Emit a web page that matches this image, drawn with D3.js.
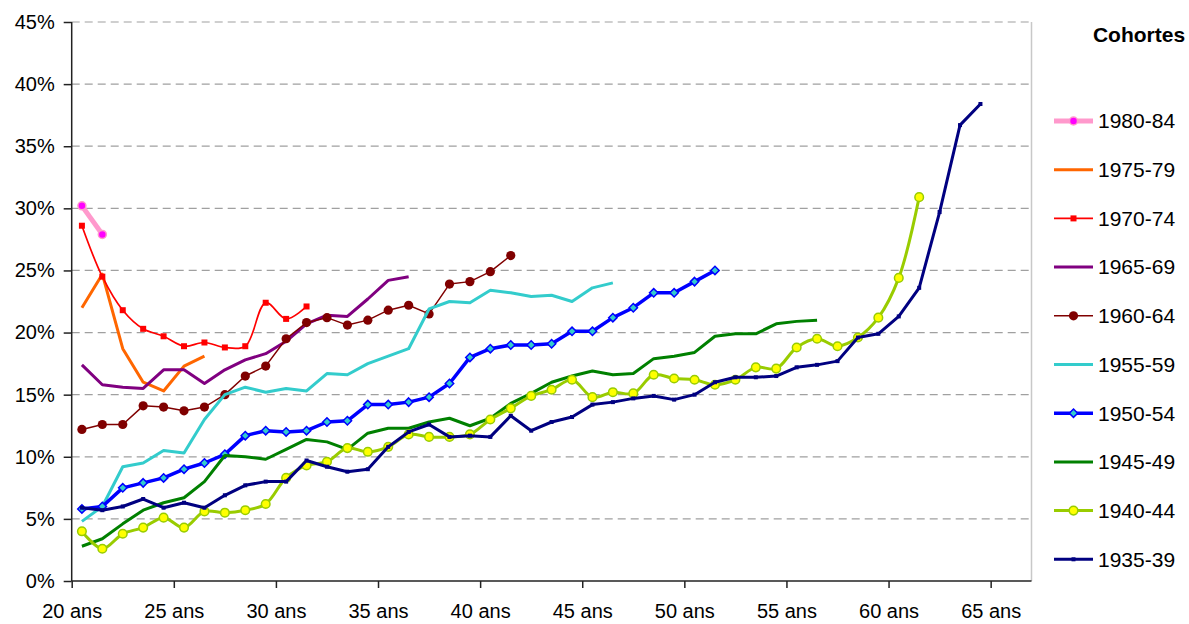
<!DOCTYPE html>
<html><head><meta charset="utf-8">
<script src="https://cdn.jsdelivr.net/npm/d3@7"></script>
<style>
html,body{margin:0;padding:0;background:#fff;}
svg{display:block;font-family:"Liberation Sans",Arial,sans-serif;}
</style></head>
<body>
<svg id="c" width="1189" height="624"></svg>
<script>
// Data: share (%) by age, each series starts at age 20
const startAge = 20;
const yTicks = [0,5,10,15,20,25,30,35,40,45];
const xTicks = [20,25,30,35,40,45,50,55,60,65];
const cohorts = ["1980-84","1975-79","1970-74","1965-69","1960-64","1955-59","1950-54","1945-49","1940-44","1935-39"];

const s1980 = [30.2, 27.9];
const s1975 = [22.0, 24.7, 18.7, 16.0, 15.3, 17.3, 18.1];
const s1970 = [28.6, 24.5, 21.8, 20.3, 19.7, 18.9, 19.2, 18.8, 18.9, 22.4, 21.1, 22.1];
const s1965 = [17.4, 15.8, 15.6, 15.5, 17.0, 17.0, 15.9, 17.0, 17.8, 18.3, 19.3, 20.7, 21.4, 21.3, 22.7, 24.2, 24.5];
const s1960 = [12.2, 12.6, 12.6, 14.1, 14.0, 13.7, 14.0, 15.0, 16.5, 17.3, 19.5, 20.8, 21.2, 20.6, 21.0, 21.8, 22.2, 21.5, 23.9, 24.1, 24.9, 26.2];
const s1955 = [4.8, 6.0, 9.2, 9.5, 10.5, 10.3, 13.0, 15.0, 15.6, 15.2, 15.5, 15.3, 16.7, 16.6, 17.5, 18.1, 18.7, 21.9, 22.5, 22.4, 23.4, 23.2, 22.9, 23.0, 22.5, 23.6, 24.0];
const s1950 = [5.8, 6.0, 7.5, 7.9, 8.3, 9.0, 9.5, 10.2, 11.7, 12.1, 12.0, 12.1, 12.8, 12.9, 14.2, 14.2, 14.4, 14.8, 15.9, 18.0, 18.7, 19.0, 19.0, 19.1, 20.1, 20.1, 21.2, 22.0, 23.2, 23.2, 24.1, 25.0];
const s1945 = [2.8, 3.4, 4.6, 5.7, 6.3, 6.7, 8.0, 10.1, 10.0, 9.8, 10.6, 11.4, 11.2, 10.6, 11.9, 12.3, 12.3, 12.8, 13.1, 12.5, 13.1, 14.3, 15.1, 16.0, 16.5, 16.9, 16.6, 16.7, 17.9, 18.1, 18.4, 19.7, 19.9, 19.9, 20.7, 20.9, 21.0];
const s1940 = [4.0, 2.6, 3.8, 4.3, 5.1, 4.3, 5.6, 5.5, 5.7, 6.2, 8.3, 9.3, 9.6, 10.7, 10.4, 10.8, 11.8, 11.6, 11.6, 11.8, 13.0, 13.9, 14.9, 15.4, 16.2, 14.8, 15.2, 15.1, 16.6, 16.3, 16.2, 15.8, 16.2, 17.2, 17.1, 18.8, 19.5, 18.9, 19.6, 21.2, 24.4, 30.9];
const s1935 = [5.9, 5.7, 6.0, 6.6, 5.9, 6.3, 5.9, 6.9, 7.7, 8.0, 8.0, 9.7, 9.2, 8.8, 9.0, 10.8, 12.0, 12.6, 11.6, 11.7, 11.6, 13.3, 12.1, 12.8, 13.2, 14.2, 14.4, 14.7, 14.9, 14.6, 15.0, 16.0, 16.4, 16.4, 16.5, 17.2, 17.4, 17.7, 19.6, 19.9, 21.3, 23.6, 29.7, 36.7, 38.4];

const seriesValues = [s1980, s1975, s1970, s1965, s1960, s1955, s1950, s1945, s1940, s1935];

const styles = [
  {color:"#FF99CC", width:5, marker:"circle", r:4, fill:"#FF00FF", stroke:"#FF99CC", sw:1.5, smooth:false},
  {color:"#FF6600", width:3, marker:null, smooth:false},
  {color:"#FF0000", width:1.7, marker:"square", size:6, fill:"#FF0000", stroke:"#FF0000", sw:0, smooth:true},
  {color:"#800080", width:3, marker:null, smooth:false},
  {color:"#800000", width:1.5, marker:"circle", r:4.6, fill:"#800000", stroke:"#800000", sw:0, smooth:false},
  {color:"#33CCCC", width:3, marker:null, smooth:false},
  {color:"#0000FF", width:3.5, marker:"diamond", size:4.2, fill:"#33CCCC", stroke:"#0000FF", sw:1.5, smooth:false},
  {color:"#008000", width:3, marker:null, smooth:false},
  {color:"#99CC00", width:3, marker:"circle", r:4.3, fill:"#FFFF00", stroke:"#99CC00", sw:1.5, smooth:true},
  {color:"#000080", width:3, marker:"square", size:4, fill:"#000080", stroke:"#000080", sw:0, smooth:false}
];

const svg = d3.select("#c");
const x = d3.scaleLinear().domain([20, 67]).range([71.7, 1031.5]);
const y = d3.scaleLinear().domain([0, 45]).range([581, 22]);

// grid lines
svg.append("g").selectAll("line").data(yTicks.filter(d => d > 0)).join("line")
  .attr("x1", x(20)).attr("x2", x(67))
  .attr("y1", d => y(d)).attr("y2", d => y(d))
  .attr("stroke", "#A0A0A0").attr("stroke-width", 1.2).attr("stroke-dasharray", "8,5");

// right border
svg.append("line").attr("x1", x(67)).attr("x2", x(67)).attr("y1", y(45)).attr("y2", y(0))
  .attr("stroke", "#C8C8C8").attr("stroke-width", 1.5);

// axes
const yAxis = d3.axisLeft(y).tickValues(yTicks).tickFormat(d => d + "%").tickSize(8).tickPadding(9);
const gy = svg.append("g").attr("transform", `translate(${x(20)},0)`).call(yAxis);
const xAxis = d3.axisBottom(x).tickValues(xTicks).tickFormat(d => d + " ans").tickSize(7).tickPadding(16);
const gx = svg.append("g").attr("transform", `translate(0,${y(0)})`).call(xAxis);
[gx, gy].forEach(g => {
  g.select(".domain").attr("stroke", "#222").attr("stroke-width", 1.5);
  g.selectAll(".tick line").attr("stroke", "#222").attr("stroke-width", 1.5);
  g.selectAll("text").attr("font-size", 20).attr("fill", "#000").attr("font-family", '"Liberation Sans",Arial,sans-serif');
});
gy.select(".domain").attr("d", `M0,${y(45)}V${y(0)}`);
gx.select(".domain").attr("d", `M${x(20)},0H${x(67)}`);

function drawMarker(g, st, cx, cy) {
  if (st.marker === "circle") {
    g.append("circle").attr("cx", cx).attr("cy", cy).attr("r", st.r)
      .attr("fill", st.fill).attr("stroke", st.stroke).attr("stroke-width", st.sw);
  } else if (st.marker === "square") {
    g.append("rect").attr("x", cx - st.size/2).attr("y", cy - st.size/2)
      .attr("width", st.size).attr("height", st.size).attr("fill", st.fill);
  } else if (st.marker === "diamond") {
    const s = st.size;
    g.append("path").attr("d", `M${cx},${cy-s}L${cx+s},${cy}L${cx},${cy+s}L${cx-s},${cy}Z`)
      .attr("fill", st.fill).attr("stroke", st.stroke).attr("stroke-width", st.sw);
  }
}

// series
seriesValues.forEach((vals, i) => {
  const st = styles[i];
  const pts = vals.map((v, k) => [x(startAge + k + 0.5), y(v)]);
  const line = d3.line().curve(st.smooth ? d3.curveCatmullRom.alpha(0.5) : d3.curveLinear);
  const g = svg.append("g");
  g.append("path").attr("d", line(pts)).attr("fill", "none")
    .attr("stroke", st.color).attr("stroke-width", st.width)
    .attr("stroke-linejoin", "round").attr("stroke-linecap", "butt");
  if (st.marker) pts.forEach(p => drawMarker(g, st, p[0], p[1]));
});

// legend
svg.append("text").attr("x", 1139).attr("y", 42).attr("text-anchor", "middle")
  .attr("font-size", 21).attr("font-weight", "bold").text("Cohortes");
cohorts.forEach((name, i) => {
  const st = styles[i];
  const ly = 121 + i * 48.7;
  const g = svg.append("g");
  g.append("line").attr("x1", 1054).attr("x2", 1093).attr("y1", ly).attr("y2", ly)
    .attr("stroke", st.color).attr("stroke-width", st.width);
  if (st.marker) drawMarker(g, st, 1073.5, ly);
  g.append("text").attr("x", 1098).attr("y", ly).attr("dy", "0.35em")
    .attr("font-size", 21).text(name);
});
</script>
</body></html>
